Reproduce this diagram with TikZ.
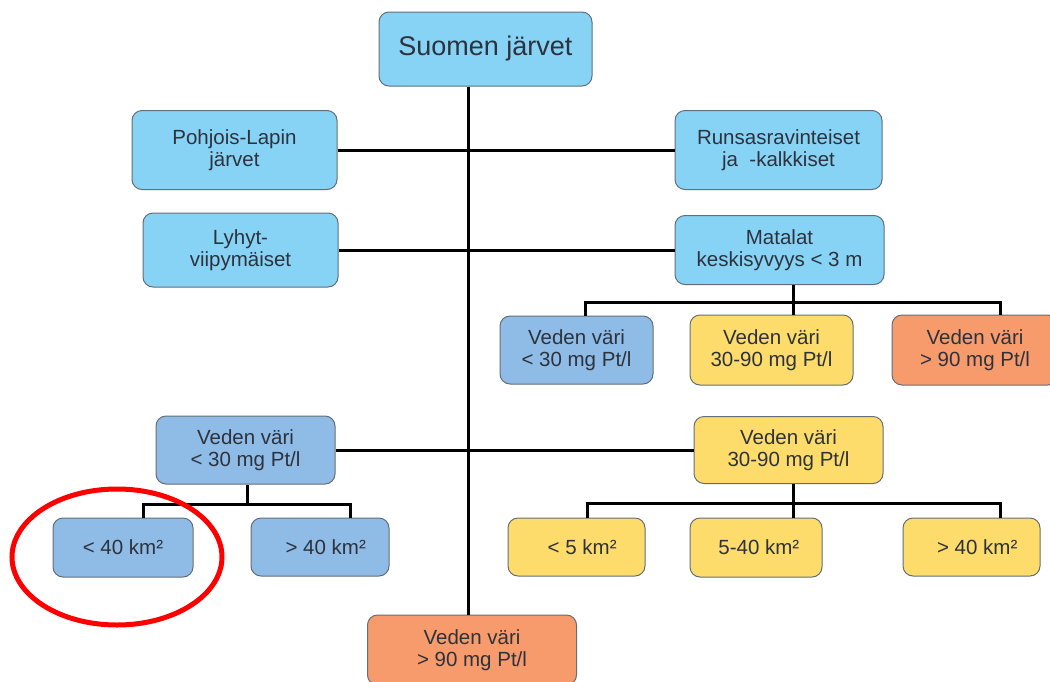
\documentclass[tikz,border=0pt]{standalone}
\usepackage{fontspec}
\setmainfont{Liberation Sans}

\definecolor{vaaleansininen}{RGB}{135,211,245}
\definecolor{sininen}{RGB}{143,188,230}
\definecolor{keltainen}{RGB}{254,220,108}
\definecolor{oranssi}{RGB}{248,155,108}
\definecolor{reuna}{RGB}{100,110,120}
\definecolor{teksti}{RGB}{45,50,60}

\begin{document}
\begin{tikzpicture}[x=1pt, y=-1pt,
    laatikko/.style={draw=reuna, line width=1pt, rounded corners=10pt, align=center,
        inner sep=0pt, text=teksti, font=\fontsize{20.5}{22}\selectfont},
    koko/.style 2 args={minimum width=#1pt, minimum height=#2pt},
    viiva/.style={line width=3pt, black}]

    % Kuvan rajat
    \clip (0,0) rectangle (1050,681);
    \fill[white] (0,0) rectangle (1050,681);

    % Ylin taso
    \node[laatikko, fill=vaaleansininen, koko={213}{74}, font=\fontsize{27}{30}\selectfont] (juuri) at (485.5,49) {Suomen järvet};
    \node[laatikko, fill=vaaleansininen, koko={205}{79}] (pohjois) at (234.5,150) {Pohjois-Lapin\\järvet};
    \node[laatikko, fill=vaaleansininen, koko={207}{79}] (runsas) at (778.5,150) {Runsasravinteiset\\ja \ -kalkkiset};
    \node[laatikko, fill=vaaleansininen, koko={195}{74}] (lyhyt) at (240.5,250) {Lyhyt-\\viipymäiset};
    \node[laatikko, fill=vaaleansininen, koko={209}{69}] (matalat) at (779.5,250) {Matalat\\keskisyvyys < 3 m};

    % Matalien järvien väriluokat
    \node[laatikko, fill=sininen, koko={153}{68}] (m1) at (576.5,350) {Veden väri\\< 30 mg Pt/l};
    \node[laatikko, fill=keltainen, koko={163}{70}] (m2) at (771.5,350) {Veden väri\\30-90 mg Pt/l};
    \node[laatikko, fill=oranssi, koko={166}{70}] (m3) at (975,350) {Veden väri\\> 90 mg Pt/l};

    % Väriluokat
    \node[laatikko, fill=sininen, koko={179}{68}] (sin) at (245.5,450) {Veden väri\\< 30 mg Pt/l};
    \node[laatikko, fill=keltainen, koko={189}{67}] (kel) at (788.5,450) {Veden väri\\30-90 mg Pt/l};
    \node[laatikko, fill=oranssi, koko={209}{70}] (alin) at (472,650) {Veden väri\\> 90 mg Pt/l};

    % Kokoluokat
    \node[laatikko, fill=sininen, koko={140}{59}] (s1) at (123,547.5) {< 40 km²};
    \node[laatikko, fill=sininen, koko={138}{58}] (s2) at (320,547) {\ \ > 40 km²};
    \node[laatikko, fill=keltainen, koko={137}{58}] (k1) at (576.5,547) {\ \ < 5 km²};
    \node[laatikko, fill=keltainen, koko={132}{59}] (k2) at (756,547.5) {\ 5-40 km²};
    \node[laatikko, fill=keltainen, koko={137}{58}] (k3) at (971.5,547) {\ \ > 40 km²};

    % Runko ja sivuhaarat
    \coordinate (runko) at (468,0);
    \draw[viiva] (juuri.south -| runko) -- (alin.north -| runko);
    \draw[viiva] (pohjois.east) -- (runsas.west);
    \draw[viiva] (lyhyt.east) -- (matalat.west);
    \draw[viiva] (sin.east) -- (kel.west);

    % Matalat -> väriluokat
    \coordinate (mh) at (793,302);
    \coordinate (m1p) at (585,302);
    \coordinate (m3p) at (1000,302);
    \draw[viiva] (matalat.south -| mh) -- (m2.north -| mh);
    \draw[viiva] (m1.north -| m1p) -- (m1p) -- (m3p) -- (m3.north -| m3p);

    % Sininen -> kokoluokat
    \coordinate (sh) at (247,504);
    \coordinate (s1p) at (143,504);
    \coordinate (s2p) at (350,504);
    \draw[viiva] (sin.south -| sh) -- (sh);
    \draw[viiva] (s1.north -| s1p) -- (s1p) -- (s2p) -- (s2.north -| s2p);

    % Keltainen -> kokoluokat
    \coordinate (kh) at (793,503);
    \coordinate (k1p) at (587,503);
    \coordinate (k3p) at (1000,503);
    \draw[viiva] (kel.south -| kh) -- (k2.north -| kh);
    \draw[viiva] (k1.north -| k1p) -- (k1p) -- (k3p) -- (k3.north -| k3p);

    % Korostus
    \draw[red, line width=5pt] (117,557) ellipse [x radius=105pt, y radius=68pt];

\end{tikzpicture}
\end{document}
